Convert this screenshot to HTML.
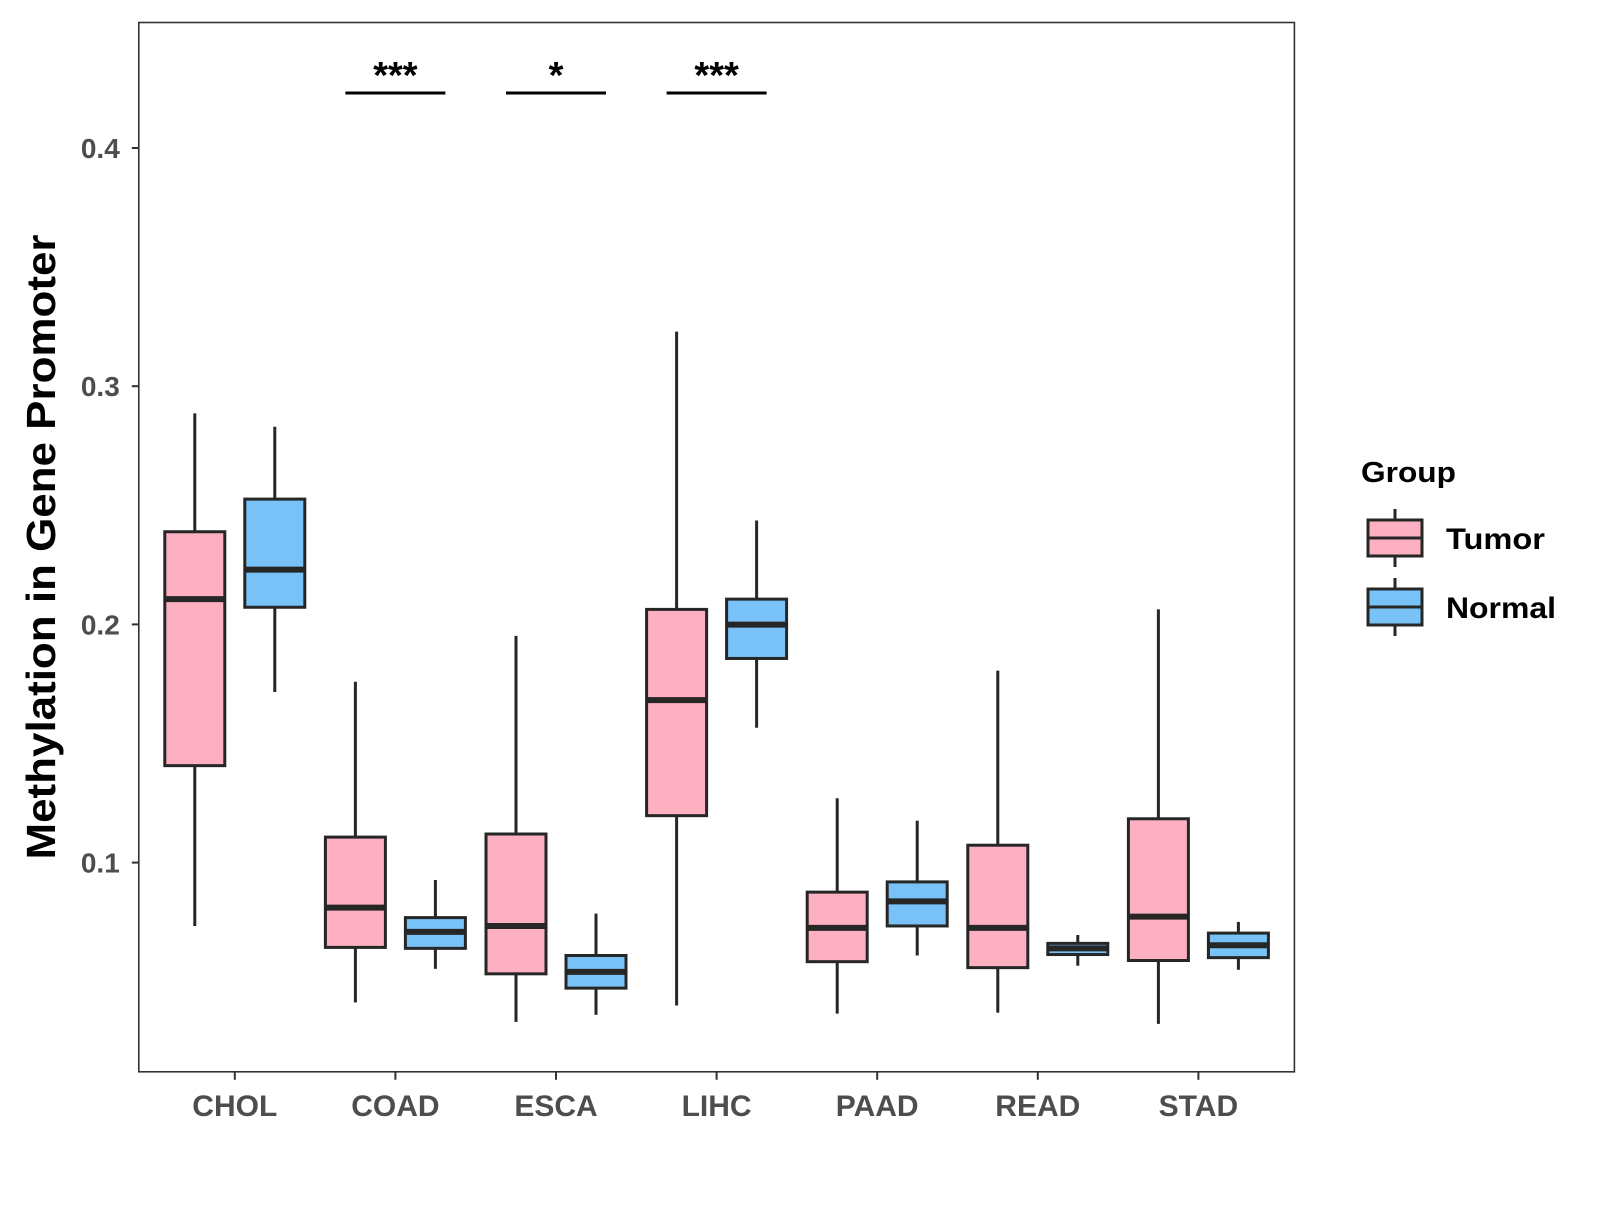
<!DOCTYPE html>
<html><head><meta charset="utf-8"><style>
body{margin:0;background:#fff;}
svg text{font-family:"Liberation Sans",Arial,sans-serif;font-weight:bold;}
</style></head><body>
<svg id="chart" width="1600" height="1200" viewBox="0 0 1600 1200" xmlns="http://www.w3.org/2000/svg">
<rect x="0" y="0" width="1600" height="1200" fill="#fff"/>
<g id="plot"></g>
</svg>
<script>
const categories=["CHOL","COAD","ESCA","LIHC","PAAD","READ","STAD"];
const tumorStats=[
[0.0734,0.1407,0.2106,0.2389,0.2886],
[0.0413,0.0644,0.0811,0.1107,0.1759],
[0.0331,0.0533,0.0734,0.1120,0.1952],
[0.0400,0.1197,0.1682,0.2063,0.3229],
[0.0366,0.0584,0.0726,0.0876,0.1270],
[0.0370,0.0559,0.0726,0.1073,0.1806],
[0.0323,0.0589,0.0773,0.1184,0.2063]];
const normalStats=[
[0.1716,0.2072,0.2230,0.2526,0.2830],
[0.0554,0.0640,0.0709,0.0769,0.0927],
[0.0361,0.0473,0.0541,0.0610,0.0786],
[0.1566,0.1857,0.1999,0.2106,0.2436],
[0.0610,0.0734,0.0837,0.0919,0.1176],
[0.0567,0.0614,0.0640,0.0661,0.0696],
[0.0550,0.0601,0.0653,0.0704,0.0751]];
const yTicks=[0.1,0.2,0.3,0.4];
const yTickLabels=["0.1","0.2","0.3","0.4"];
const sigCategories=["COAD","ESCA","LIHC"];
const sigLabels=["***","*","***"];
const groups=["Tumor","Normal"];
const colors=["#FCB0C1","#78C2F8"];

const NS="http://www.w3.org/2000/svg";
const g=document.getElementById('plot');
const L=138.8,R=1294.4,T=22.5,B=1071.8;
function y(v){return 862.6-(v-0.1)*2382;}
function x(i){return 234.8+i*160.6;}
function mk(tag,attrs,parent){const e=document.createElementNS(NS,tag);for(const k in attrs)e.setAttribute(k,attrs[k]);(parent||g).appendChild(e);return e;}

const panel=mk('rect',{x:L,y:T,width:R-L,height:B-T,fill:'none',stroke:'#333','stroke-width':1.6});



yTicks.forEach((t,i)=>{
  const tk=mk('line',{x1:L-7,x2:L,y1:y(t),y2:y(t),stroke:'#333','stroke-width':2});
  
  
  const tx=mk('text',{x:L-19,y:y(t)+10,'text-anchor':'end','font-size':28,fill:'#4d4d4d'});
  tx.textContent=yTickLabels[i];
  
  
});
categories.forEach((c,i)=>{
  const tk=mk('line',{x1:x(i),x2:x(i),y1:B,y2:B+8,stroke:'#333','stroke-width':2});
  
  
  const tx=mk('text',{x:x(i),y:B+44,'text-anchor':'middle','font-size':30,fill:'#4d4d4d'});
  tx.textContent=c;
  
  
});

function box(cx,s,fill,name){
  const w=60,bg=mk('g',{});
  
  
  mk('line',{x1:cx,x2:cx,y1:y(s[0]),y2:y(s[1]),stroke:'#262626','stroke-width':3},bg);
  mk('line',{x1:cx,x2:cx,y1:y(s[3]),y2:y(s[4]),stroke:'#262626','stroke-width':3},bg);
  mk('rect',{x:cx-w/2,y:y(s[3]),width:w,height:y(s[1])-y(s[3]),fill:fill,stroke:'#262626','stroke-width':3},bg);
  mk('line',{x1:cx-w/2,x2:cx+w/2,y1:y(s[2]),y2:y(s[2]),stroke:'#262626','stroke-width':6},bg);
}
categories.forEach((c,i)=>{
  box(x(i)-40,tumorStats[i],colors[0],'box-tumor-'+c.toLowerCase());
  box(x(i)+40,normalStats[i],colors[1],'box-normal-'+c.toLowerCase());
});
sigCategories.forEach((c,k)=>{
  const i=categories.indexOf(c);
  const ln=mk('line',{x1:x(i)-50,x2:x(i)+50,y1:93,y2:93,stroke:'#000','stroke-width':3});
  
  
  const tx=mk('text',{x:x(i),y:88,'text-anchor':'middle','font-size':38,fill:'#000'});
  tx.textContent=sigLabels[k];
  
  
});
const yl=mk('text',{x:0,y:0,transform:'translate(55,547) rotate(-90)','text-anchor':'middle','font-size':41,fill:'#000',textLength:625,lengthAdjust:'spacingAndGlyphs'});
yl.textContent='Methylation in Gene Promoter';



const lt=mk('text',{x:1361,y:482,'font-size':29,fill:'#000',textLength:95,lengthAdjust:'spacingAndGlyphs'});
lt.textContent='Group';


groups.forEach((gname,k)=>{
  const top=520+k*69;
  const lg=mk('g',{});
  
  
  mk('line',{x1:1395,x2:1395,y1:top-11,y2:top+47,stroke:'#262626','stroke-width':3},lg);
  mk('rect',{x:1368,y:top,width:54,height:36,fill:colors[k],stroke:'#262626','stroke-width':3},lg);
  mk('line',{x1:1368,x2:1422,y1:top+18,y2:top+18,stroke:'#262626','stroke-width':3},lg);
  const t=mk('text',{x:1446,y:top+29,'font-size':30,fill:'#000',textLength:(k==0?99:110),lengthAdjust:'spacingAndGlyphs'},lg);
  t.textContent=gname;
});
</script>
</body></html>
